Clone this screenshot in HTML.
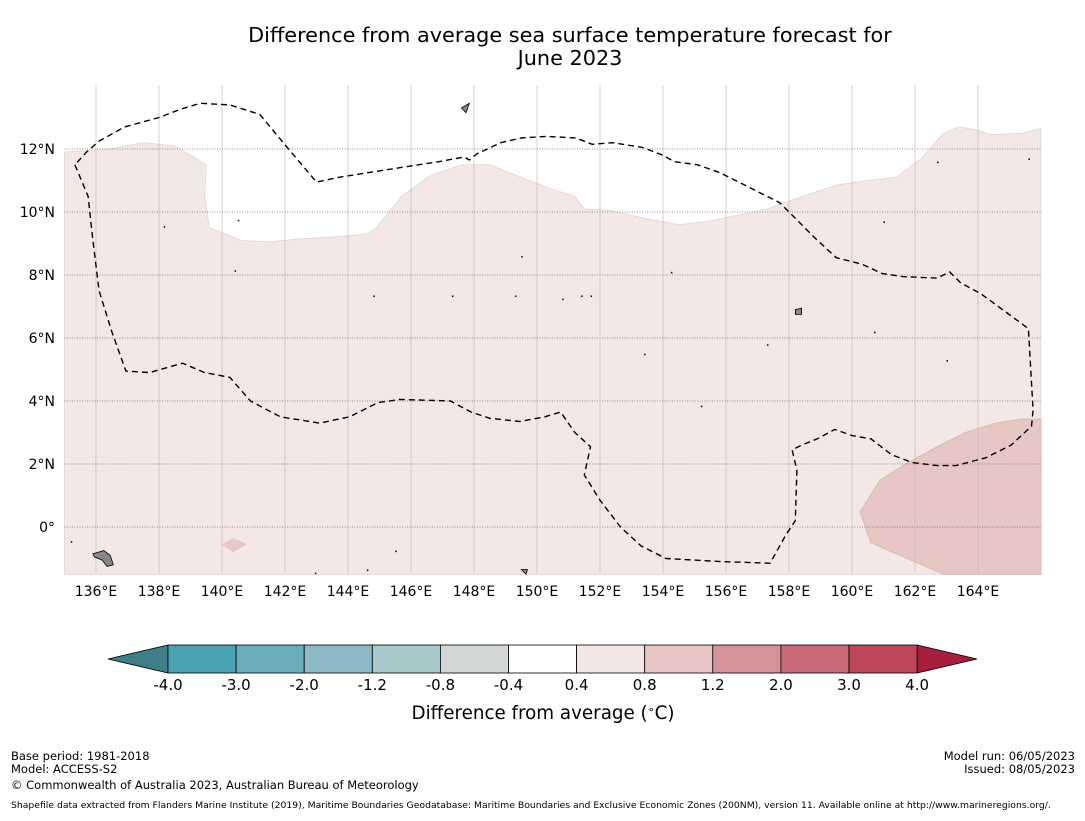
<!DOCTYPE html>
<html><head><meta charset="utf-8"><style>
body{margin:0;background:#fff;width:1085px;height:816px;overflow:hidden;font-family:"Liberation Sans","DejaVu Sans",sans-serif}
svg text{font-family:"DejaVu Sans","Liberation Sans",sans-serif}
</style></head><body>
<svg id="c" width="1085" height="816" xmlns="http://www.w3.org/2000/svg">
<text x="570" y="42" font-size="20.8" text-anchor="middle">Difference from average sea surface temperature forecast for</text>
<text x="570" y="65" font-size="20.8" text-anchor="middle">June 2023</text>
<g id="map"></g>
<g id="cb"></g>
<text x="543" y="719" font-size="18.3" text-anchor="middle">Difference from average (<tspan font-size="11" dy="-6">∘</tspan><tspan dy="6">C)</tspan></text>
<g font-size="11.5">
<text x="11" y="760">Base period: 1981-2018</text>
<text x="11" y="773">Model: ACCESS-S2</text>
<text x="11" y="789">© Commonwealth of Australia 2023, Australian Bureau of Meteorology</text>
<text x="1075" y="760" text-anchor="end">Model run: 06/05/2023</text>
<text x="1075" y="773" text-anchor="end">Issued: 08/05/2023</text>
<text x="11" y="808" font-size="9.25">Shapefile data extracted from Flanders Marine Institute (2019), Maritime Boundaries Geodatabase: Maritime Boundaries and Exclusive Economic Zones (200NM), version 11. Available online at http://www.marineregions.org/.</text>
</g>
</svg>
<script>
const lonTicks=[136,138,140,142,144,146,148,150,152,154,156,158,160,162,164];
const latTicks=[0,2,4,6,8,10,12];
const levels=[-4.0,-3.0,-2.0,-1.2,-0.8,-0.4,0.4,0.8,1.2,2.0,3.0,4.0];
const levelColors=["#4aa2b2","#6aaebb","#8cb9c5","#a9c8cc","#d3d6d7","#ffffff","#f3e7e5","#e6c6c2","#d69299","#c86a78","#bd4658"];
const underColor="#3d7f89", overColor="#a61f3c";
const anomLight=[[135,11.9],[136.4,12.0],[137.5,12.2],[138.5,12.1],[139.5,11.5],[139.45,10.5],[139.6,9.5],[140.6,9.1],[141.5,9.05],[142.5,9.15],[143.5,9.2],[144.6,9.3],[144.9,9.5],[145.7,10.5],[146.6,11.15],[147.6,11.5],[148.5,11.5],[149.5,11.1],[150.4,10.75],[151.2,10.5],[151.5,10.1],[152.3,10.05],[153.4,9.8],[154.5,9.6],[155.4,9.7],[156.4,9.9],[157.3,10.1],[158.3,10.45],[159.5,10.85],[160.5,11.0],[161.4,11.1],[162.2,11.7],[162.9,12.5],[163.4,12.7],[164,12.6],[164.4,12.45],[165.4,12.5],[166,12.65],[166,-1.5],[135,-1.5]];
const anomDark=[[162.9,-1.5],[160.6,-0.5],[160.25,0.48],[160.9,1.5],[161.7,2.0],[162.8,2.6],[163.6,3.0],[164.55,3.3],[165.35,3.43],[166,3.43],[166,-1.5]];
const anomDiamond=[[140.0,-0.55],[140.35,-0.35],[140.8,-0.55],[140.35,-0.8]];
const eez=[[135.33,11.5],[135.75,10.5],[135.9,9.1],[136.1,7.5],[136.5,6.2],[136.95,4.95],[137.7,4.9],[138.75,5.2],[139.45,4.9],[140.25,4.75],[140.9,4.0],[141.85,3.5],[143.1,3.3],[144.05,3.5],[144.95,3.95],[145.65,4.05],[147.25,4.0],[147.9,3.65],[148.5,3.45],[149.45,3.35],[150.25,3.5],[150.75,3.65],[151.2,3.0],[151.7,2.55],[151.5,1.65],[152.0,0.85],[152.65,-0.0],[153.3,-0.6],[154.1,-1.0],[155.85,-1.1],[157.4,-1.15],[157.9,-0.25],[158.2,0.2],[158.25,1.8],[158.1,2.45],[158.4,2.6],[158.9,2.8],[159.45,3.1],[160.0,2.9],[160.6,2.8],[161.25,2.3],[161.9,2.05],[162.7,1.95],[163.3,1.95],[164.25,2.2],[165.05,2.6],[165.7,3.2],[165.75,3.7],[165.6,6.3],[165.05,6.7],[164.1,7.4],[163.45,7.75],[163.1,8.1],[162.7,7.9],[161.6,7.95],[160.95,8.05],[160.3,8.35],[159.5,8.55],[158.85,9.15],[158.2,9.8],[157.7,10.3],[157.3,10.5],[156.5,10.9],[155.8,11.25],[155.1,11.5],[154.35,11.6],[154.0,11.8],[153.35,12.05],[152.4,12.2],[151.75,12.15],[151.25,12.35],[150.3,12.4],[149.5,12.35],[148.85,12.2],[148.1,11.85],[147.85,11.65],[147.7,11.75],[146.9,11.6],[145.6,11.4],[144.65,11.25],[143.7,11.1],[143.0,10.95],[142.45,11.6],[141.9,12.25],[141.2,13.1],[140.25,13.4],[139.3,13.45],[138.65,13.25],[138.0,13.0],[136.9,12.7],[136.1,12.25],[135.7,11.9],[135.33,11.5]];
const islands=[[135.9,-0.85,[[0,0],[0.35,0.1],[0.55,-0.05],[0.65,-0.35],[0.45,-0.4],[0.3,-0.2],[0.05,-0.1]]],[147.6,13.3,[[0,0],[0.25,0.15],[0.15,-0.15]]],[158.2,6.9,[[0,0],[0.2,0.05],[0.2,-0.15],[0,-0.15]]],[149.5,-1.35,[[0,0],[0.2,0],[0.15,-0.15]]]];
const dots=[[138.15,9.55],[151.7,7.35],[151.4,7.35],[154.25,8.1],[163,5.3],[149.5,8.6],[140.4,8.15],[144.8,7.35],[147.3,7.35],[149.3,7.35],[150.8,7.25],[153.4,5.5],[155.2,3.85],[144.6,-1.35],[145.5,-0.75],[161,9.7],[162.7,11.6],[165.6,11.7],[140.5,9.75],[157.3,5.8],[160.7,6.2],[135.2,-0.45],[142.95,-1.45]];
const X0=64.5,PX=31.5,Y0=527,PY=31.5;
const xs=l=>X0+(l-135)*PX, ys=a=>Y0-a*PY;
const NS="http://www.w3.org/2000/svg";
function mk(p,t,a){const e=document.createElementNS(NS,t);for(const k in a)e.setAttribute(k,a[k]);p.appendChild(e);return e;}
const pts=arr=>arr.map(p=>xs(p[0]).toFixed(1)+","+ys(p[1]).toFixed(1)).join(" ");
const mapG=document.getElementById('map');
const mLeft=xs(135),mRight=xs(166),mTop=85,mBot=573;
let r=mk(mapG,'rect',{x:mLeft,y:mTop,width:mRight-mLeft,height:mBot-mTop,fill:'#fff'});


let p=mk(mapG,'polygon',{points:pts(anomLight),fill:'#f3e8e6',stroke:'#e3d3d0','stroke-width':0.8});


p=mk(mapG,'polygon',{points:pts(anomDark),fill:'#e6c7c3',stroke:'#d9b5b0','stroke-width':0.8});


p=mk(mapG,'polygon',{points:pts(anomDiamond),fill:'#e6c7c3'});


lonTicks.forEach(l=>{
 const x=xs(l);
 const ln=mk(mapG,'line',{x1:x,x2:x,y1:mTop,y2:mBot,stroke:'#bcb4b4','stroke-width':0.6});
 
 
 const t=mk(mapG,'text',{x:x,y:596,'font-size':14,'text-anchor':'middle'});t.textContent=l+"°E";
 
 
});
latTicks.forEach(a=>{
 const y=ys(a);
 const ln=mk(mapG,'line',{x1:mLeft,x2:mRight,y1:y,y2:y,stroke:'#7a7070','stroke-width':0.8,'stroke-dasharray':'1,1.5'});
 
 
 const t=mk(mapG,'text',{x:55,y:y+5,'font-size':14,'text-anchor':'end'});t.textContent=a===0?"0°":a+"°N";
 
 
});
islands.forEach(i=>{
 const g=mk(mapG,'polygon',{points:pts(i[2].map(q=>[i[0]+q[0],i[1]+q[1]])),fill:'#888',stroke:'#000','stroke-width':0.8});
 
 
});
dots.forEach(d=>{
 const c=mk(mapG,'rect',{x:xs(d[0]),y:ys(d[1]),width:1.5,height:1.5,fill:'#000'});
 
 
});
p=mk(mapG,'polyline',{points:pts(eez),fill:'none',stroke:'#000','stroke-width':1.4,'stroke-dasharray':'6,4'});


const cb=document.getElementById('cb');
const cx0=168,cw=68.1,cy=645,ch=28;
const n=levelColors.length, cx1=cx0+n*cw;
p=mk(cb,'polygon',{points:`${cx0},${cy} ${cx0},${cy+ch} 108,${cy+ch/2}`,fill:underColor,stroke:'#000','stroke-width':0.8});


p=mk(cb,'polygon',{points:`${cx1},${cy} ${cx1},${cy+ch} 977,${cy+ch/2}`,fill:overColor,stroke:'#000','stroke-width':0.8});


levelColors.forEach((c,i)=>{
 const b=mk(cb,'rect',{x:cx0+i*cw,y:cy,width:cw,height:ch,fill:c,stroke:'#000','stroke-width':0.8});
 
 
});
levels.forEach((v,i)=>{
 const t=mk(cb,'text',{x:cx0+i*cw,y:690,'font-size':15,'text-anchor':'middle'});t.textContent=v.toFixed(1);
 
 
});
</script>
</body></html>
